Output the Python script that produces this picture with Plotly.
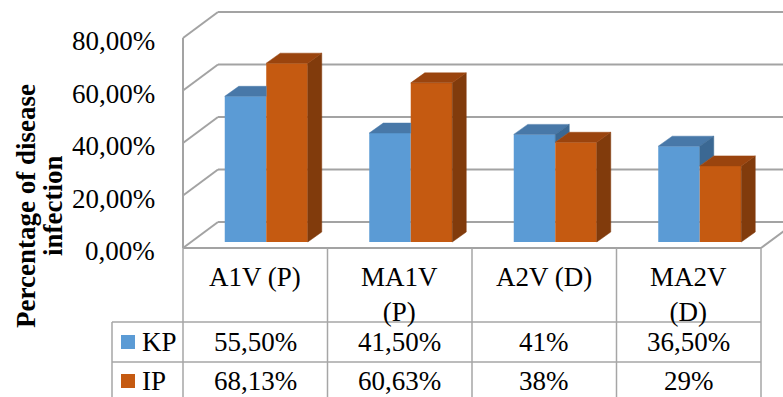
import plotly.graph_objects as go

# ---------------- data ----------------
categories = ["A1V (P)", "MA1V (P)", "A2V (D)", "MA2V (D)"]
kp_values = [55.50, 41.50, 41.00, 36.50]
ip_values = [68.13, 60.63, 38.00, 29.00]
series_names = ["KP", "IP"]
y_ticks = [0, 20, 40, 60, 80]
y_title_lines = ["Percentage of disease", "infection"]

# ---------------- styling / geometry ----------------
W, H = 783, 397
PX = 144.5          # pixels per category
PY = 2.625          # pixels per percent
X0_PX = 183         # front-left floor corner (pixel x)
BASE_PX = 242       # bar baseline (pixel y)

FONT = "Liberation Serif"
GRID = "#A3A3A3"
TBL = "#A6A6A6"
TXT_SIZE = 27

FRONT_COL = ["#5B9BD5", "#C55A11"]
TOP_COL = ["#4878A8", "#9A440E"]
SIDE_COL = ["#3B6893", "#813B0C"]


def xpx(px):
    return (px - X0_PX) / PX


def ypx(py):
    return (BASE_PX - py) / PY


FX, FY = -11 / PX, -6 / PY          # front plane relative to bar plane
DBX, DBY = 35 / PX, 26 / PY         # wall depth
BW = 41.5 / PX                      # bar width
BDX, BDY = 14 / PX, 10 / PY         # bar depth

fig = go.Figure()

values = [kp_values, ip_values]
centers = [i + 0.5 - FX for i in range(len(categories))]

# front faces of the bars
for s in range(2):
    xs = [c - BW / 2 if s == 0 else c + BW / 2 for c in centers]
    fig.add_trace(go.Bar(
        x=xs, y=values[s], width=BW, name=series_names[s],
        marker=dict(color=FRONT_COL[s], line=dict(width=0)),
        hoverinfo="skip", showlegend=False))


def poly(pts, color):
    xs = [p[0] for p in pts] + [pts[0][0]]
    ys = [p[1] for p in pts] + [pts[0][1]]
    fig.add_trace(go.Scatter(
        x=xs, y=ys, mode="lines", fill="toself", fillcolor=color,
        line=dict(width=0.5, color=color), hoverinfo="skip",
        showlegend=False))


# depth faces
for i, c in enumerate(centers):
    vb, vo = kp_values[i], ip_values[i]
    xl, b, r = c - BW, c, c + BW
    if vb > vo:
        poly([(xl, vb), (xl + BDX, vb + BDY), (b + BDX, vb + BDY), (b, vb)], TOP_COL[0])
        poly([(b, vo), (b + BDX, vo + BDY), (b + BDX, vb + BDY), (b, vb)], SIDE_COL[0])
    else:
        poly([(xl, vb), (xl + BDX, vb + BDY), (b, vb + BDY), (b, vb)], TOP_COL[0])
    poly([(r, 0), (r + BDX, BDY), (r + BDX, vo + BDY), (r, vo)], SIDE_COL[1])
    poly([(b, vo), (b + BDX, vo + BDY), (r + BDX, vo + BDY), (r, vo)], TOP_COL[1])

shapes = []


def line(x0, y0, x1, y1, color=GRID, width=2, layer="below"):
    shapes.append(dict(type="line", xref="x", yref="y", x0=x0, y0=y0,
                       x1=x1, y1=y1, layer=layer,
                       line=dict(color=color, width=width)))


xmax = xpx(W) + 0.2
for v in y_ticks:
    line(DBX, v + FY + DBY, xmax, v + FY + DBY)
    line(0, v + FY, DBX, v + FY + DBY)
line(0, FY, 0, y_ticks[-1] + FY)
n = len(categories)
line(0, FY, n, FY)
line(n, FY, n + DBX, FY + DBY)

# data table
ybot = ypx(H + 10)
for k in range(n + 1):
    line(k, FY, k, ybot, color=TBL, width=1.5, layer="above")
for py in (322, 362):
    line(xpx(112), ypx(py), n, ypx(py), color=TBL, width=1.5, layer="above")
line(xpx(112), ypx(322), xpx(112), ybot, color=TBL, width=1.5, layer="above")

annotations = []
for v in y_ticks:
    annotations.append(dict(
        x=xpx(157), y=v + FY, xref="x", yref="y", xanchor="right",
        yanchor="middle", yshift=-3, showarrow=False,
        text=f"{v:.2f}".replace(".", ",") + "%",
        font=dict(family=FONT, size=TXT_SIZE, color="black")))

for txt, px in zip(y_title_lines, (26, 53)):
    annotations.append(dict(
        x=xpx(px), y=ypx(206), xref="x", yref="y", xanchor="center",
        yanchor="middle", textangle=-90, showarrow=False, text=txt,
        font=dict(family=FONT, size=27, color="black", weight="bold")))

for i, cat in enumerate(categories):
    label = cat.replace(" ", "<br>") if len(cat) > 7 else cat
    annotations.append(dict(
        x=i + 0.5, y=ypx(260), xref="x", yref="y", xanchor="center",
        yanchor="top", showarrow=False, text=label,
        font=dict(family=FONT, size=TXT_SIZE, color="black")))


def fmt(v):
    if float(v).is_integer():
        return f"{int(v)}%"
    return f"{v:.2f}".replace(".", ",") + "%"


row_y = [342, 381]
for s in range(2):
    for i, v in enumerate(values[s]):
        annotations.append(dict(
            x=i + 0.5, y=ypx(row_y[s]), xref="x", yref="y",
            xanchor="center", yanchor="middle", showarrow=False,
            text=fmt(v), font=dict(family=FONT, size=TXT_SIZE, color="black")))
    annotations.append(dict(
        x=xpx(140), y=ypx(row_y[s]), xref="x", yref="y",
        xanchor="left", yanchor="middle", showarrow=False,
        text=series_names[s], font=dict(family=FONT, size=TXT_SIZE, color="black")))
    shapes.append(dict(type="rect", xref="x", yref="y",
                       x0=xpx(121), x1=xpx(135),
                       y0=ypx(row_y[s] - 7), y1=ypx(row_y[s] + 7),
                       fillcolor=FRONT_COL[s], line=dict(width=0),
                       layer="above"))

fig.update_layout(
    width=W, height=H, margin=dict(l=0, r=0, t=0, b=0),
    paper_bgcolor="white", plot_bgcolor="white",
    barmode="overlay", showlegend=False,
    shapes=shapes, annotations=annotations,
    font=dict(family=FONT),
    xaxis=dict(range=[xpx(0), xpx(W)], visible=False, fixedrange=True),
    yaxis=dict(range=[ypx(H), ypx(0)], visible=False, fixedrange=True),
)

fig.write_html("out.html")
